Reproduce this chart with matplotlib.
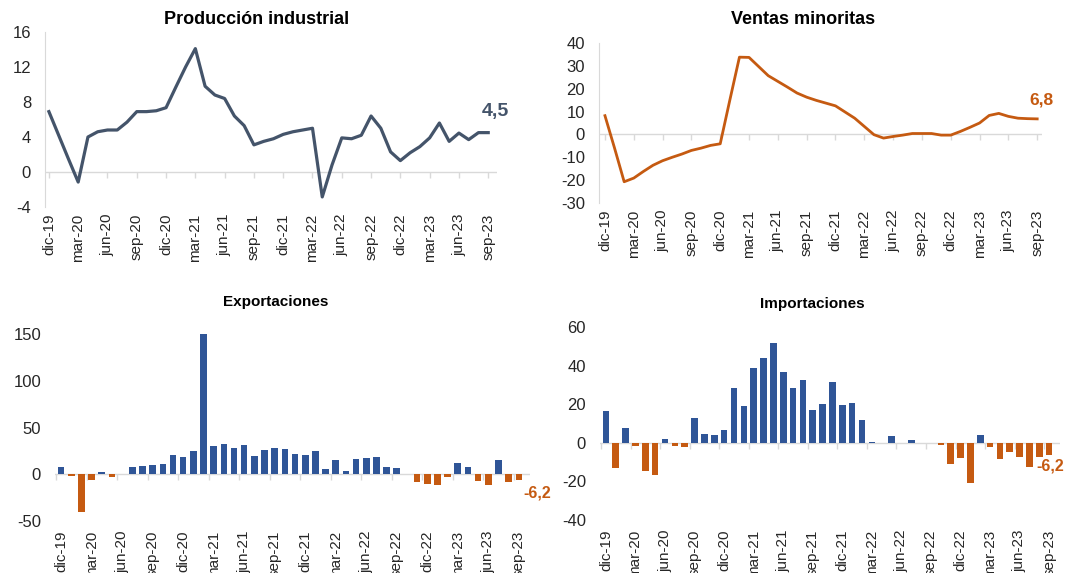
import matplotlib
matplotlib.use("Agg")
import matplotlib.pyplot as plt
import numpy as np

plt.rcParams['font.family'] = ['Liberation Sans', 'DejaVu Sans']

# Meses dic-19 .. sep-23
months = ["dic-19",
          "ene-20", "feb-20", "mar-20", "abr-20", "may-20", "jun-20",
          "jul-20", "ago-20", "sep-20", "oct-20", "nov-20", "dic-20",
          "ene-21", "feb-21", "mar-21", "abr-21", "may-21", "jun-21",
          "jul-21", "ago-21", "sep-21", "oct-21", "nov-21", "dic-21",
          "ene-22", "feb-22", "mar-22", "abr-22", "may-22", "jun-22",
          "jul-22", "ago-22", "sep-22", "oct-22", "nov-22", "dic-22",
          "ene-23", "feb-23", "mar-23", "abr-23", "may-23", "jun-23",
          "jul-23", "ago-23", "sep-23"]

produccion = [6.9, 4.2, 1.5, -1.15, 4.0, 4.6, 4.8, 4.8, 5.7, 6.9, 6.9, 7.0,
              7.35, 9.7, 12.0, 14.1, 9.8, 8.8, 8.4, 6.4, 5.3, 3.1, 3.5, 3.8,
              4.3, 4.6, 4.8, 5.0, -2.85, 0.8, 3.9, 3.8, 4.2, 6.4, 5.0, 2.3,
              1.3, 2.2, 2.9, 3.9, 5.6, 3.5, 4.45, 3.7, 4.5, 4.5]

ventas = [8.2, -6.0, -20.7, -19.1, -16.2, -13.5, -11.5, -10.0, -8.6, -7.0,
          -6.0, -4.8, -4.1, 15.0, 33.8, 33.7, 29.7, 25.7, 23.2, 20.7, 18.1,
          16.3, 14.9, 13.7, 12.5, 9.8, 7.1, 3.5, -0.1, -1.6, -0.9, -0.3, 0.4,
          0.4, 0.4, -0.3, -0.3, 1.3, 3.1, 5.0, 8.3, 9.2, 7.9, 7.1, 6.9, 6.8]

exportaciones = [7.8, -2.1, -40.5, -6.4, 2.8, -2.8, 0.3, 7.5, 9.2, 10.0, 11.0,
                 20.6, 18.1, 24.9, 154.0, 30.6, 32.3, 28.1, 31.3, 19.6, 25.6,
                 28.1, 27.0, 22.0, 20.6, 24.5, 6.0, 14.9, 3.6, 16.7, 17.4,
                 18.5, 7.5, 6.4, 0.2, -8.5, -10.0, -11.4, -2.8, 11.7, 7.5,
                 -6.8, -12.0, 14.9, -8.5, -6.2]

importaciones = [16.4, -13.0, 7.6, -1.6, -14.4, -16.8, 2.1, -1.7, -2.4, 12.6,
                 4.5, 3.8, 6.4, 28.4, 18.9, 38.9, 44.1, 51.9, 36.9, 28.2, 32.5,
                 17.0, 20.2, 31.5, 19.4, 20.8, 11.8, 0.5, 0.1, 3.5, 0.1, 1.4,
                 0.1, 0.1, -0.9, -10.9, -7.8, -20.9, 4.3, -2.1, -8.5, -5.0,
                 -7.1, -12.3, -7.4, -6.2]

SLATE = "#44546A"
ORANGE = "#C55A11"
BLUE = "#2F5597"
GRID = "#D9D9D9"
TXT = "#262626"

W, H = 1074, 573
fig = plt.figure(figsize=(W / 100, H / 100), dpi=100)


def box(x0, y0, x1, y1):
    # pixel box -> figure fraction
    return [x0 / W, 1 - y1 / H, (x1 - x0) / W, (y1 - y0) / H]


def style(ax, xlim, yticks, show_left, xpad, tick_off):
    x = np.arange(len(months))
    ax.set_xlim(*xlim)
    ax.set_ylim(yticks[0], yticks[-1])
    ax.set_yticks(yticks)
    ax.set_yticklabels([str(v) for v in yticks])
    ax.set_xticks(x[::3])
    ax.set_xticklabels(months[::3], rotation=90)
    for s in ["top", "right", "bottom"]:
        ax.spines[s].set_visible(False)
    ax.spines["left"].set_visible(show_left)
    ax.spines["left"].set_color(GRID)
    ax.axhline(0, color=GRID, lw=1.0, zorder=1)
    ax.tick_params(axis="y", length=0, labelsize=12, pad=10, colors=TXT)
    ax.tick_params(axis="x", length=0, labelsize=11, pad=xpad, colors=TXT)
    # small tick marks on the zero line
    tk = x[::3] + tick_off
    tk = tk[(tk > xlim[0]) & (tk < xlim[1])]
    ax.plot(tk, np.zeros(len(tk)), ls="none", marker=3, ms=4,
            mec=GRID, mew=1.0, zorder=1)
    ax.patch.set_alpha(0)


x = np.arange(len(months))

# Producción industrial
ax1 = fig.add_axes(box(45, 32, 497, 207))
ax1.plot(x, produccion, color=SLATE, lw=2.3, zorder=3)
style(ax1, (-0.4, 45.9), [-4, 0, 4, 8, 12, 16], True, 5, 0)
ax1.set_title("Producción industrial", fontsize=13, fontweight="bold",
              pad=6, color="black", x=0.469)
ax1.annotate("4,5", (x[-1], produccion[-1]), xytext=(5, 9),
             textcoords="offset points", ha="center", va="bottom",
             fontsize=14, fontweight="bold", color=SLATE)

# Ventas minoritas
ax2 = fig.add_axes(box(599, 43, 1042, 203))
ax2.plot(x, ventas, color=ORANGE, lw=2.0, zorder=3)
style(ax2, (-0.62, 45.5), [-30, -20, -10, 0, 10, 20, 30, 40], True, 5, 0)
ax2.set_title("Ventas minoritas", fontsize=13, fontweight="bold",
              pad=14, color="black", x=0.46)
ax2.annotate("6,8", (x[-1], ventas[-1]), xytext=(3, 8),
             textcoords="offset points", ha="center", va="bottom",
             fontsize=12.5, fontweight="bold", color=ORANGE)

# Exportaciones
ax3 = fig.add_axes(box(55, 334, 530, 521))
cols = [BLUE if v >= 0 else ORANGE for v in exportaciones]
ax3.bar(x, exportaciones, width=0.65, color=cols, zorder=3)
style(ax3, (-0.6, 46.1), [-50, 0, 50, 100, 150], False, 7, -0.5)
ax3.set_title("Exportaciones", fontsize=11, fontweight="bold",
              pad=20, color="black", x=0.465)
ax3.annotate("-6,2", (x[-1], exportaciones[-1]), xytext=(13, -4),
             textcoords="offset points", ha="center", va="top",
             fontsize=11.5, fontweight="bold", color=ORANGE,
             annotation_clip=False)

# Importaciones
ax4 = fig.add_axes(box(600, 327, 1060, 520))
cols = [BLUE if v >= 0 else ORANGE for v in importaciones]
ax4.bar(x, importaciones, width=0.67, color=cols, zorder=3)
style(ax4, (-0.6, 46.1), [-40, -20, 0, 20, 40, 60], False, 7, -0.5)
ax4.set_title("Importaciones", fontsize=11, fontweight="bold",
              pad=14, color="black", x=0.461)
ax4.annotate("-6,2", (x[-1], importaciones[-1]), xytext=(1, -3),
             textcoords="offset points", ha="center", va="top",
             fontsize=11.5, fontweight="bold", color=ORANGE,
             annotation_clip=False)

fig.savefig("out.png", dpi=100)
